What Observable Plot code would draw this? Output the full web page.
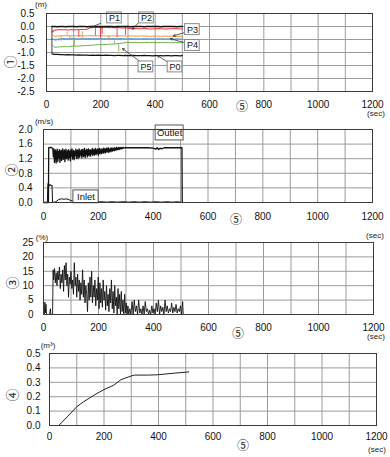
<!DOCTYPE html>
<html><head><meta charset="utf-8">
<script src="https://cdn.jsdelivr.net/npm/d3@7"></script>
<script src="https://cdn.jsdelivr.net/npm/@observablehq/plot@0.6"></script>
<style>
body{margin:0;background:#fff;font-family:"Liberation Sans",Arial,sans-serif;}
#wrap{position:relative;width:390px;height:457px;overflow:hidden;background:#fff}
.lab{position:absolute;font-size:8px;color:#222;white-space:nowrap;transform:translate(-50%,-50%);line-height:1}
.circ{position:absolute;font-size:13px;color:#222;font-family:"Noto Sans CJK JP","DejaVu Sans",sans-serif;transform:translate(-50%,-50%) rotate(-90deg);line-height:1}
.c5{position:absolute;font-size:12px;color:#222;font-family:"Noto Sans CJK JP","DejaVu Sans",sans-serif;transform:translate(-50%,-50%);line-height:1}
</style></head><body><div id="wrap"></div>
<script>
// ---------- shared axis values ----------
const xTicks = [0, 200, 400, 600, 800, 1000, 1200];
const xGrid = [100, 200, 300, 400, 500, 600, 700, 800, 900, 1000, 1100];

// ---------- panel 1: water levels (m) ----------
const yTicks1 = [0.5, 0, -0.5, -1, -1.5, -2, -2.5];
const yGrid1 = [0, -0.5, -1, -1.5, -2];
const T1 = [20,30,40,50,60,70,80,90,100,110,120,130,140,150,160,170,180,190,200,210,220,230,240,250,260,270,280,290,300,310,320,330,340,350,360,370,380,390,400,410,420,430,440,450,460,470,480,490,500];
const P0 = [-1.05,-1.07,-1.07,-1.08,-1.08,-1.09,-1.08,-1.09,-1.09,-1.10,-1.09,-1.10,-1.10,-1.10,-1.11,-1.10,-1.11,-1.10,-1.11,-1.11,-1.10,-1.11,-1.11,-1.12,-1.11,-1.11,-1.12,-1.11,-1.12,-1.12,-1.11,-1.12,-1.12,-1.12,-1.11,-1.12,-1.12,-1.13,-1.12,-1.12,-1.12,-1.13,-1.12,-1.12,-1.13,-1.12,-1.12,-1.13,-1.12];
const P1 = [-0.20,-0.14,-0.13,-0.12,-0.13,-0.12,-0.14,-0.12,-0.13,-0.12,-0.13,-0.11,-0.12,-0.10,-0.05,-0.03,-0.04,-0.03,-0.05,-0.04,-0.03,-0.05,-0.04,-0.05,-0.04,-0.05,-0.06,-0.05,-0.07,-0.08,-0.09,-0.08,-0.09,-0.09,-0.08,-0.09,-0.10,-0.09,-0.09,-0.08,-0.09,-0.09,-0.10,-0.09,-0.09,-0.08,-0.09,-0.09,-0.10];
const P2 = [0,0,-0.01,0,0,-0.01,0,0,0,-0.01,0,0,0,-0.01,0,0,0,0,-0.01,0,0,0,0,-0.01,0,0,0,0,0,-0.01,0,0,0,0,-0.01,0,0,0,0,0,-0.01,0,0,0,0,0,-0.01,0,0];
const P3 = [-0.30,-0.38,-0.37,-0.36,-0.36,-0.35,-0.36,-0.36,-0.35,-0.36,-0.36,-0.35,-0.36,-0.36,-0.35,-0.36,-0.36,-0.36,-0.35,-0.36,-0.36,-0.37,-0.36,-0.36,-0.37,-0.36,-0.36,-0.37,-0.37,-0.36,-0.37,-0.37,-0.37,-0.36,-0.37,-0.37,-0.38,-0.37,-0.37,-0.37,-0.38,-0.37,-0.37,-0.38,-0.37,-0.38,-0.38,-0.37,-0.38];
const P4 = [-0.45,-0.52,-0.50,-0.47,-0.46,-0.46,-0.47,-0.46,-0.46,-0.46,-0.47,-0.46,-0.46,-0.46,-0.46,-0.47,-0.46,-0.46,-0.46,-0.46,-0.47,-0.46,-0.46,-0.46,-0.47,-0.46,-0.46,-0.47,-0.47,-0.46,-0.47,-0.47,-0.47,-0.47,-0.46,-0.47,-0.47,-0.47,-0.48,-0.47,-0.47,-0.47,-0.48,-0.47,-0.48,-0.48,-0.47,-0.48,-0.48];
const P5 = [-0.70,-0.80,-0.79,-0.78,-0.78,-0.77,-0.78,-0.76,-0.75,-0.76,-0.75,-0.74,-0.74,-0.73,-0.72,-0.72,-0.71,-0.70,-0.70,-0.69,-0.69,-0.68,-0.68,-0.67,-0.66,-0.65,-0.64,-0.62,-0.61,-0.61,-0.62,-0.61,-0.62,-0.62,-0.61,-0.62,-0.62,-0.61,-0.62,-0.62,-0.62,-0.61,-0.62,-0.62,-0.63,-0.62,-0.62,-0.62,-0.62];
const series1 = [
  {name: "P0", values: P0, color: "#111111", width: 1.3},
  {name: "P5", values: P5, color: "#70ad47", width: 1},
  {name: "P4", values: P4, color: "#5b9bd5", width: 1},
  {name: "P3", values: P3, color: "#f0903c", width: 1},
  {name: "P1", values: P1, color: "#ee2222", width: 1},
  {name: "P2", values: P2, color: "#111111", width: 1.3}
];
// short vertical excursions seen in the traces
const spikes1 = [
  {s: "P0", t: 20, v1: 0, v2: -1.05},
  {s: "P1", t: 24, v1: -0.15, v2: -0.25},
  {s: "P1", t: 119, v1: -0.12, v2: -0.42},
  {s: "P1", t: 180, v1: -0.04, v2: -0.36},
  {s: "P1", t: 199, v1: -0.05, v2: -0.45},
  {s: "P1", t: 205, v1: -0.04, v2: -0.30},
  {s: "P1", t: 260, v1: -0.04, v2: -0.42},
  {s: "P1", t: 291, v1: -0.05, v2: -0.35},
  {s: "P3", t: 54, v1: -0.36, v2: -0.57},
  {s: "P3", t: 76, v1: -0.22, v2: -0.36},
  {s: "P3", t: 86, v1: -0.36, v2: -0.55},
  {s: "P3", t: 132, v1: -0.20, v2: -0.50},
  {s: "P3", t: 229, v1: -0.36, v2: -0.55},
  {s: "P4", t: 35, v1: -0.46, v2: -0.58},
  {s: "P4", t: 45, v1: -0.46, v2: -0.56},
  {s: "P5", t: 103, v1: -0.52, v2: -0.75},
  {s: "P5", t: 250, v1: -0.55, v2: -0.67},
  {s: "P5", t: 266, v1: -0.66, v2: -0.98}
];
const labels1 = [
  {name: "P1", t: 250, v: 0.33, fromT: 199, fromV: 0.12, tipT: 162, tipV: -0.04},
  {name: "P2", t: 368, v: 0.33, fromT: 339, fromV: 0.15, tipT: 316, tipV: -0.10},
  {name: "P3", t: 537, v: -0.12, fromT: 510, fromV: -0.23, tipT: 467, tipV: -0.36},
  {name: "P4", t: 537, v: -0.73, fromT: 508, fromV: -0.62, tipT: 456, tipV: -0.47},
  {name: "P5", t: 366, v: -1.555, fromT: 346, fromV: -1.36, tipT: 280, tipV: -0.85},
  {name: "P0", t: 473, v: -1.555, fromT: 445, fromV: -1.36, tipT: 409, tipV: -1.12}
];

// ---------- panel 2: velocity (m/s) ----------
const yTicks2 = [0, 0.4, 0.8, 1.2, 1.6, 2.0];
const yGrid2 = [0.4, 0.8, 1.2, 1.6];
const outlet = [[0,0],[18,0],[19,1.5],[25,1.51],[30,1.5],[34,1.48],
 [36,1.25],[38,1.47],[40,1.10],[42,1.35],[44,1.44],[46,1.08],[48,1.30],[50,1.46],[52,1.12],[54,1.40],[56,1.22],[58,1.45],[60,1.10],[62,1.33],[64,1.43],[66,1.15],[68,1.38],[70,1.47],[72,1.18],[74,1.28],[76,1.44],[78,1.12],[80,1.36],[82,1.46],[84,1.20],[86,1.31],[88,1.42],[90,1.16],[92,1.45],[94,1.24],[96,1.39],[98,1.14],[100,1.44],[102,1.27],[104,1.47],[106,1.19],[108,1.35],[110,1.43],[112,1.17],[114,1.40],[116,1.29],[118,1.46],[120,1.21],[122,1.37],[124,1.44],[126,1.20],[128,1.34],[130,1.47],[132,1.24],[134,1.41],[136,1.30],[138,1.45],[140,1.22],[142,1.38],[144,1.46],[146,1.26],[148,1.33],[150,1.48],[152,1.23],[154,1.42],[156,1.31],[158,1.46],[160,1.25],[162,1.39],[164,1.47],[166,1.28],[168,1.36],[170,1.45],[172,1.27],[174,1.43],[176,1.33],[178,1.48],[180,1.29],[182,1.40],[184,1.46],[186,1.30],[188,1.37],[190,1.48],[192,1.31],[194,1.44],[196,1.35],[198,1.47],[200,1.30],[202,1.41],[204,1.48],[206,1.33],[208,1.39],[210,1.47],[212,1.34],[214,1.45],[216,1.37],[218,1.49],[220,1.35],[222,1.42],[224,1.48],[226,1.36],[228,1.44],[230,1.49],[232,1.38],[234,1.43],[236,1.50],[238,1.37],[240,1.46],[242,1.41],[244,1.49],[246,1.39],[248,1.45],[250,1.50],[252,1.41],[254,1.47],[256,1.43],[258,1.50],[260,1.42],[262,1.48],[264,1.44],[266,1.51],[268,1.44],[270,1.49],[272,1.46],[274,1.51],[276,1.45],[278,1.50],[280,1.47],[282,1.51],[284,1.47],[286,1.50],[288,1.48],[290,1.51],[294,1.49],[298,1.50],[300,1.50],
 [310,1.50],[330,1.50],[350,1.50],[380,1.50],[400,1.49],[410,1.46],[415,1.50],[420,1.45],[425,1.49],[430,1.47],[440,1.50],[460,1.50],[480,1.50],[500,1.50],[505,1.50],[506,0]];
const inlet = [[0,0],[14,0],[16,0.50],[18,0.55],[20,0.45],[24,0.50],[28,0.45],[31,0.48],[33,0],[45,0.02],[55,0.08],[65,0.10],[75,0.09],[85,0.10],[95,0.07],[105,0.04],[115,0.03],[130,0.02],[150,0.01],[170,0.02],[190,0.01],[210,0.02],[230,0.01],[250,0.02],[270,0.01],[290,0.02],[310,0.01],[330,0.02],[350,0.01],[370,0.02],[390,0.01],[410,0.02],[430,0.01],[450,0.02],[470,0.01],[490,0.02],[500,0.01]];
const labels2 = [
  {name: "Outlet", t1: 409, t2: 511, v1: 1.70, v2: 2.11},
  {name: "Inlet", t1: 109, t2: 201, v1: -0.02, v2: 0.33}
];

// ---------- panel 3: percentage (%) ----------
const yTicks3 = [0, 5, 10, 15, 20, 25];
const yGrid3 = [5, 10, 15, 20];
const pct = [[0,0],[3,0],[5,4.3],[7,0.5],[9,3.5],[11,0],[22,0],[25,2],[27,0],[33,0],[35,15.5],
 [37,12],[40,16],[43,11],[46,14.5],[49,10],[52,15],[55,12],[58,16.5],[61,9],[64,14],[67,11],[70,15.5],[73,8],[76,17],[79,12],[82,18],[85,10],[88,14],[91,6],[94,13],[97,10.5],[100,15],[103,9],[106,12],[109,7],[112,18],[115,10],[118,13],[121,6],[124,14],[127,8],[130,12],[133,5],[136,11],[139,7],[142,15.5],[145,6],[148,12],[151,4],[154,10],[157,7],[160,1],[163,11],[166,5],[169,13],[172,6],[175,15],[178,4],[181,10],[184,6],[187,12],[190,3],[193,9],[196,5],[199,13],[202,2],[205,11],[208,4],[211,9],[214,2.5],[217,12],[220,5],[223,8],[226,1.5],[229,10],[232,3],[235,7],[238,1],[241,9],[244,4],[247,12],[250,2],[253,8],[256,0.5],[259,10],[262,3],[265,6],[268,0],[271,9],[274,2],[277,7],[280,0],[283,8],[286,1],[289,5],[292,0],[295,7],[298,0.5],[301,4],[304,0],[307,3],
 [310,0],[314,2],[318,0],[322,4.5],[326,0],[330,5],[334,1],[338,3],[342,0],[346,5],[350,0.5],[354,2],[358,0],[362,3],[366,0],[370,4.5],[374,1],[378,2],[382,0],[386,1.5],[390,0],[394,3],[398,0.5],[402,2],[406,0],[410,4],[414,1],[418,5],[422,0],[426,3],[430,1],[434,2.5],[438,0],[442,5],[446,1],[450,3],[454,0.5],[458,2],[462,1],[466,4],[470,0.5],[474,2.5],[478,1],[482,3.5],[486,0.5],[490,2],[494,1],[498,3],[502,0],[506,4.5],[508,0],[510,0]];

// ---------- panel 4: volume (m3) ----------
const yTicks4 = [0, 0.1, 0.2, 0.3, 0.4, 0.5];
const yGrid4 = [0.1, 0.2, 0.3, 0.4];
const volume = [[34,0],[65,0.06],[100,0.13],[125,0.165],[163,0.21],[200,0.25],[236,0.28],[262,0.318],[300,0.344],[312,0.35],[360,0.35],[395,0.352],[450,0.362],[511,0.372]];

// ---------- drawing ----------
const wrap = document.getElementById("wrap");
const f1 = d => d.toFixed(1);

function panel(o) {
  const fig = Plot.plot({
    width: 390, height: o.height,
    marginLeft: o.ml, marginRight: 390 - o.xr, marginTop: o.mt, marginBottom: o.height - o.yb,
    style: {fontSize: "10px", fontFamily: '"Liberation Sans", Arial, sans-serif', color: "#111", background: "transparent", overflow: "visible"},
    x: {domain: [0, 1200], ticks: xTicks, tickSize: 0, tickPadding: o.xpad, tickFormat: d => String(d)},
    y: {domain: o.yDomain, ticks: o.yTicks, tickSize: 0, tickPadding: o.ypad, tickFormat: o.yFmt},
    marks: [
      Plot.ruleX(xGrid, {stroke: "#9a9a9a", strokeWidth: 1}),
      Plot.ruleY(o.yGrid, {stroke: "#9a9a9a", strokeWidth: 1}),
      ...o.marks,
      Plot.frame({stroke: "#3a3a3a"})
    ]
  });
  fig.style.position = "absolute";
  fig.style.top = o.top + "px";
  fig.style.left = "0px";
  wrap.append(fig);
}

// panel 1
const marks1 = [];
for (const s of series1) {
  const rows = T1.map((t, i) => ({t, v: s.values[i]}));
  marks1.push(Plot.ruleX(spikes1.filter(d => d.s === s.name), {x: "t", y1: "v1", y2: "v2", stroke: s.color, strokeWidth: 0.8}));
  marks1.push(Plot.line(rows, {x: "t", y: "v", stroke: s.color, strokeWidth: s.width}));
}
marks1.push(
  Plot.arrow(labels1, {x1: "fromT", y1: "fromV", x2: "tipT", y2: "tipV", stroke: "#333", strokeWidth: 0.8, headLength: 4}),
  Plot.rect(labels1, {x1: d => d.t - 27, x2: d => d.t + 27, y1: d => d.v - 0.21, y2: d => d.v + 0.21, fill: "white", stroke: "#888"}),
  Plot.text(labels1, {x: "t", y: "v", text: "name", fontSize: 9, fill: "#111"})
);
panel({top: 0, height: 112, ml: 46, xr: 372, mt: 13, yb: 91, xpad: 9, ypad: 12,
  yDomain: [-2.5, 0.5], yTicks: yTicks1, yGrid: yGrid1, yFmt: f1, marks: marks1});

// panel 2
panel({top: 112, height: 120, ml: 43, xr: 372, mt: 17, yb: 90, xpad: 10, ypad: 11,
  yDomain: [0, 2], yTicks: yTicks2, yGrid: yGrid2, yFmt: f1, marks: [
    Plot.line(inlet, {x: d => d[0], y: d => d[1], stroke: "#111", strokeWidth: 1}),
    Plot.line(outlet, {x: d => d[0], y: d => d[1], stroke: "#111", strokeWidth: 1.3}),
    Plot.rect(labels2, {x1: "t1", x2: "t2", y1: "v1", y2: "v2", fill: "white", stroke: "#555"}),
    Plot.text(labels2, {x: d => (d.t1 + d.t2) / 2, y: d => (d.v1 + d.v2) / 2, text: "name", fontSize: 9.5, fill: "#111"})
  ]});

// panel 3
panel({top: 232, height: 108, ml: 43, xr: 373, mt: 10, yb: 82, xpad: 9, ypad: 10,
  yDomain: [0, 25], yTicks: yTicks3, yGrid: yGrid3, yFmt: d => String(d), marks: [
    Plot.line(pct, {x: d => d[0], y: d => d[1], stroke: "#111", strokeWidth: 0.9})
  ]});

// panel 4
panel({top: 340, height: 117, ml: 49, xr: 376, mt: 13, yb: 85, xpad: 7, ypad: 9,
  yDomain: [0, 0.5], yTicks: yTicks4, yGrid: yGrid4, yFmt: f1, marks: [
    Plot.line(volume, {x: d => d[0], y: d => d[1], stroke: "#222", strokeWidth: 1})
  ]});

// text annotations around the panels
const notes = [
  {cls: "lab", text: "(m)", x: 41, y: 5},
  {cls: "lab", text: "(m/s)", x: 44, y: 122},
  {cls: "lab", text: "(%)", x: 42, y: 238},
  {cls: "lab", text: "(m³)", x: 48, y: 346},
  {cls: "circ", text: "①", x: 9, y: 62},
  {cls: "circ", text: "②", x: 10, y: 170},
  {cls: "circ", text: "③", x: 11, y: 283},
  {cls: "circ", text: "④", x: 11, y: 395},
  {cls: "c5", text: "⑤", x: 242, y: 106},
  {cls: "c5", text: "⑤", x: 236, y: 219},
  {cls: "c5", text: "⑤", x: 238, y: 333},
  {cls: "c5", text: "⑤", x: 243, y: 445},
  {cls: "lab", text: "(sec)", x: 376, y: 114},
  {cls: "lab", text: "(sec)", x: 375, y: 236},
  {cls: "lab", text: "(sec)", x: 376, y: 337},
  {cls: "lab", text: "(sec)", x: 377, y: 450}
];
for (const n of notes) {
  const el = document.createElement("div");
  el.className = n.cls;
  el.textContent = n.text;
  el.style.left = n.x + "px";
  el.style.top = n.y + "px";
  wrap.append(el);
}
</script>
</body></html>
